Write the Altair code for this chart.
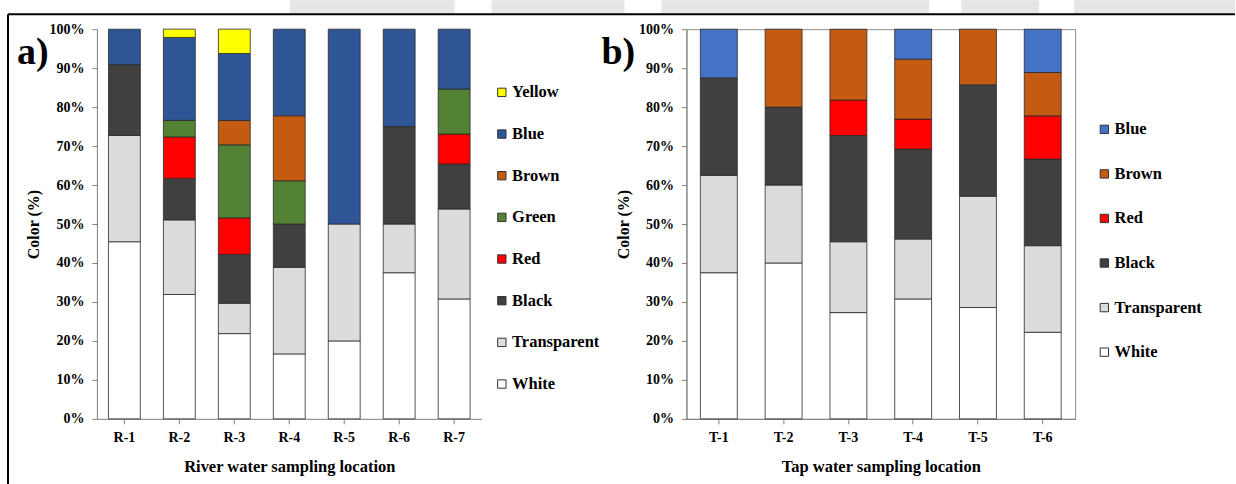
import altair as alt
import pandas as pd

# ---- River water (panel a) ----
river_sites = ["R-1", "R-2", "R-3", "R-4", "R-5", "R-6", "R-7"]
river_white = [45.45, 31.91, 21.88, 16.67, 20.00, 37.50, 30.77]
river_transparent = [27.27, 19.15, 7.81, 22.22, 30.00, 12.50, 23.08]
river_black = [18.18, 10.64, 12.50, 11.11, 0.00, 25.00, 11.54]
river_red = [0.00, 10.64, 9.38, 0.00, 0.00, 0.00, 7.69]
river_green = [0.00, 4.26, 18.75, 11.11, 0.00, 0.00, 11.54]
river_brown = [0.00, 0.00, 6.25, 16.67, 0.00, 0.00, 0.00]
river_blue = [9.09, 21.28, 17.19, 22.22, 50.00, 25.00, 15.38]
river_yellow = [0.00, 2.13, 6.25, 0.00, 0.00, 0.00, 0.00]

# ---- Tap water (panel b) ----
tap_sites = ["T-1", "T-2", "T-3", "T-4", "T-5", "T-6"]
tap_white = [37.50, 40.00, 27.27, 30.77, 28.57, 22.22]
tap_transparent = [25.00, 20.00, 18.18, 15.38, 28.57, 22.22]
tap_black = [25.00, 20.00, 27.27, 23.08, 28.57, 22.22]
tap_red = [0.00, 0.00, 9.09, 7.69, 0.00, 11.11]
tap_brown = [0.00, 20.00, 18.18, 15.38, 14.29, 11.11]
tap_blue = [12.50, 0.00, 0.00, 7.69, 0.00, 11.11]

# stacking order, bottom to top
river_classes = ["White", "Transparent", "Black", "Red", "Green", "Brown", "Blue", "Yellow"]
tap_classes = ["White", "Transparent", "Black", "Red", "Brown", "Blue"]

palette = {
    "White": "#FFFFFF",
    "Transparent": "#DCDCDC",
    "Black": "#404040",
    "Red": "#FF0000",
    "Green": "#548235",
    "Brown": "#C55A11",
    "Yellow": "#FFFF00",
}
river_blue_color = "#2F5597"
tap_blue_color = "#4472C4"

FONT = "'Liberation Serif', 'Times New Roman', Times, serif"


def long_table(sites, classes, series):
    rows = []
    for rank, (cls, vals) in enumerate(zip(classes, series)):
        for site, v in zip(sites, vals):
            if v > 0:
                rows.append({"site": site, "color": cls, "pct": v, "rank": rank})
    return pd.DataFrame(rows)


df_a = long_table(
    river_sites, river_classes,
    [river_white, river_transparent, river_black, river_red,
     river_green, river_brown, river_blue, river_yellow],
)
df_b = long_table(
    tap_sites, tap_classes,
    [tap_white, tap_transparent, tap_black, tap_red, tap_brown, tap_blue],
)

one = pd.DataFrame({"k": [0]})

y_axis = alt.Axis(
    title="Color (%)", values=list(range(0, 101, 10)),
    labelExpr="datum.value + '%'", grid=False,
)


def panel(df, sites, classes, blue, xtitle, tag, pin, pout, legend_x, legend_y, row_pad):
    legend_order = classes[::-1]
    colors = [blue if c == "Blue" else palette[c] for c in legend_order]
    bars = alt.Chart(df).mark_bar(stroke="#2a2a2a", strokeWidth=0.8).encode(
        x=alt.X("site:N", sort=sites,
                scale=alt.Scale(paddingInner=pin, paddingOuter=pout),
                axis=alt.Axis(title=xtitle, labelAngle=0)),
        y=alt.Y("pct:Q", stack="zero", scale=alt.Scale(domain=[0, 100], nice=False),
                axis=y_axis),
        color=alt.Color(
            "color:N",
            scale=alt.Scale(domain=legend_order, range=colors),
            legend=alt.Legend(
                orient="none", legendX=legend_x, legendY=legend_y, title=None,
                symbolType="square", symbolSize=70, symbolStrokeColor="#333333",
                symbolStrokeWidth=1, labelFont=FONT, labelFontSize=16.5,
                labelFontWeight="bold", labelColor="#000000", rowPadding=row_pad,
                labelOffset=2,
            ),
        ),
        order=alt.Order("rank:Q"),
    )
    label = alt.Chart(one).mark_text(
        text=tag, font=FONT, fontSize=38, fontWeight="bold", align="left",
        baseline="alphabetic", color="#000000",
    ).encode(x=alt.value(-80), y=alt.value(35))
    return bars, label


bars_a, tag_a = panel(df_a, river_sites, river_classes, river_blue_color,
                      "River water sampling location", "a)", 0.42, 0.21, 397, 55, 24.7)
bars_b, tag_b = panel(df_b, tap_sites, tap_classes, tap_blue_color,
                      "Tap water sampling location", "b)", 0.43, 0.215, 410, 92, 27.6)
tag_b = tag_b.encode(x=alt.value(-85))

# page decoration: white top strip, faint grey banner pieces, black frame
decor = [
    alt.Chart(one).mark_rect(color="#FFFFFF").encode(
        x=alt.value(-97), x2=alt.value(1139), y=alt.value(-29), y2=alt.value(-15)),
]
for x0, x1 in [(290, 455), (492, 625), (662, 930), (962, 1040), (1075, 1236)]:
    decor.append(
        alt.Chart(one).mark_rect(color="#E6E6E6").encode(
            x=alt.value(x0 - 97), x2=alt.value(x1 - 97),
            y=alt.value(-29), y2=alt.value(-16))
    )
decor += [
    alt.Chart(one).mark_rule(color="#000000", strokeWidth=2).encode(
        x=alt.value(-89), x2=alt.value(1139), y=alt.value(-15)),
    alt.Chart(one).mark_rule(color="#000000", strokeWidth=2).encode(
        x=alt.value(-89), y=alt.value(-15), y2=alt.value(460)),
]

left_v = alt.layer(*decor, bars_a, tag_a).properties(
    width=385, height=390, view=alt.ViewBackground(stroke=None))
right_v = alt.layer(bars_b, tag_b).properties(
    width=389, height=390, view=alt.ViewBackground(stroke="#8c8c8c", strokeWidth=1))

chart = alt.hconcat(left_v, right_v, spacing=205, bounds="flush").resolve_scale(
    color="independent", x="independent", y="independent"
).properties(
    padding=0, background="#FFFFFF",
).configure(
    font=FONT,
).configure_axis(
    labelFont=FONT, titleFont=FONT, labelFontSize=14, titleFontSize=16,
    labelFontWeight="bold", titleFontWeight="bold", labelColor="#000000",
    titleColor="#000000", domainColor="#7f7f7f", tickColor="#7f7f7f",
    tickSize=5,
).configure_axisY(
    titlePadding=7, labelPadding=8,
).configure_axisX(
    titlePadding=14, labelPadding=7, titleFontSize=16.5,
)

chart.save("out.html", embed_options={"renderer": "svg", "actions": False})
